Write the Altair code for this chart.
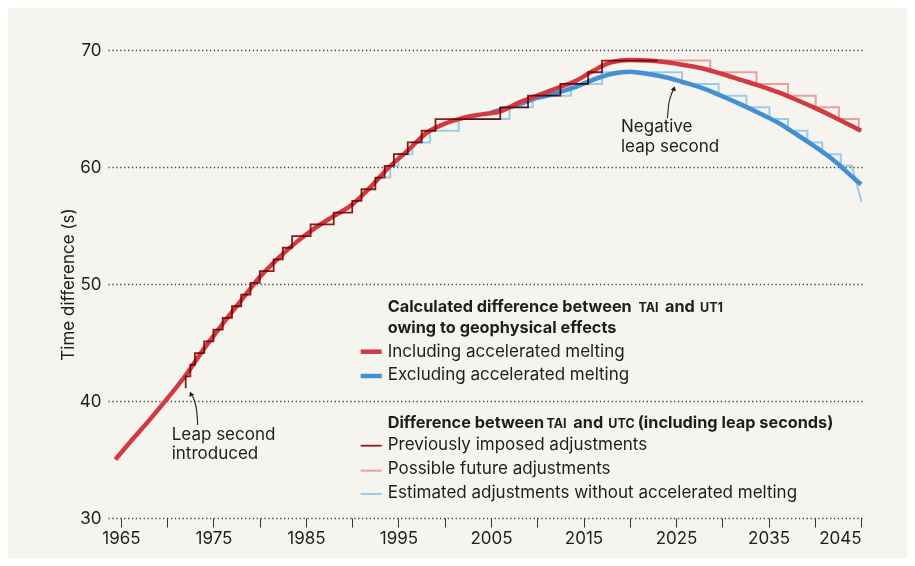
import altair as alt
import pandas as pd

FONT = "Inter"
TXT = "#1e1e1e"
FS = 17
BFS = 16.3

# ---- smooth curves (seconds) ----
red_years = [1964.4, 1966, 1968, 1970, 1972, 1974, 1976, 1978, 1980, 1982, 1984, 1986, 1988,
             1990, 1992, 1994, 1996, 1998, 2000, 2002, 2004, 2006, 2008, 2010, 2012, 2014, 2016,
             2018, 2020, 2022, 2024, 2026, 2028, 2030, 2032, 2034, 2036, 2038, 2040, 2042, 2044, 2045]
red_vals = [35.0, 36.5, 38.3, 40.2, 42.2, 44.5, 46.6, 48.6, 50.6, 52.2, 53.6, 54.8, 55.8,
            56.8, 58.3, 60.0, 61.4, 62.9, 63.7, 64.2, 64.5, 64.75, 65.5, 66.1, 66.7, 67.3, 68.2,
            68.95, 69.15, 69.1, 68.95, 68.7, 68.4, 67.95, 67.45, 66.95, 66.4, 65.75, 65.05, 64.3, 63.5, 63.1]

blue_years = [2005, 2008, 2010, 2012, 2014, 2016, 2018, 2020, 2022, 2024, 2026, 2028, 2030, 2032,
              2034, 2036, 2038, 2040, 2042, 2044, 2045]
blue_vals = [64.65, 65.35, 65.9, 66.3, 66.8, 67.45, 67.95, 68.15, 67.95, 67.65, 67.2, 66.7, 66.05,
             65.35, 64.6, 63.8, 62.8, 61.75, 60.6, 59.2, 58.5]

# ---- step series: (year of change, new level) ----
prev_years = [1972.0, 1972.0, 1972.5, 1973, 1974, 1975, 1976, 1977, 1978, 1979, 1980, 1981.5, 1982.5,
              1983.5, 1985.5, 1988, 1990, 1991, 1992.5, 1993.5, 1994.5, 1996, 1997.5, 1999, 2006,
              2009, 2012.5, 2015.5, 2017]
prev_levels = [41.1, 42.1, 43.1, 44.1, 45.1, 46.1, 47.1, 48.1, 49.1, 50.1, 51.1, 52.1, 53.1,
               54.1, 55.1, 56.1, 57.1, 58.1, 59.1, 60.1, 61.1, 62.1, 63.1, 64.1, 65.1,
               66.1, 67.1, 68.1, 69.1]
prev_end = 2023.0

future_years = [2023.0, 2028.7, 2033.7, 2037.1, 2040.1, 2042.6, 2044.75]
future_levels = [69.1, 68.1, 67.1, 66.1, 65.1, 64.1, 63.1]
future_end = 2045.05

est_years = [1993.6, 1994.1, 1995.0, 1996.5, 1998.4, 2001.5, 2007.0, 2009.5, 2013.65, 2017.0,
             2025.65, 2029.6, 2032.6, 2035.1, 2037.1, 2039.2, 2040.8, 2042.8]
est_levels = [59.1, 60.1, 61.1, 62.1, 63.1, 64.1, 65.1, 66.1, 67.1, 68.1,
              67.1, 66.1, 65.1, 64.1, 63.1, 62.1, 61.1, 60.1]
est_end = 2044.0
est_tail = (2045.05, 57.0)

# annotation arrows (data coordinates)
leap_arrow_years = [1973.3, 1973.2, 1972.95, 1972.55]
leap_arrow_vals = [37.95, 39.06, 40.0, 40.62]
neg_arrow_years = [2024.07, 2024.2, 2024.47, 2024.78]
neg_arrow_vals = [64.16, 65.3, 66.15, 66.72]

RED = "#d13a40"
BLUE = "#4390d2"
DARK = "#921c1c"
PINK = "#ec9ea0"
LBLUE = "#9ccbea"

xs = alt.Scale(domain=[1963.6, 2045.1], nice=False, zero=False)
ys = alt.Scale(domain=[30, 70], nice=False, zero=False)

XAX = alt.Axis(values=list(range(1965, 2050, 5)),
               labelExpr="datum.value % 10 == 5 ? datum.label : ''", format="d",
               grid=False, domain=False, tickSize=9, tickColor="#333", tickWidth=1,
               labelFontSize=FS, labelColor=TXT, labelPadding=3, labelFont=FONT, title=None)
YAX = alt.Axis(values=[30, 40, 50, 60, 70], grid=True, gridDash=[1.3, 2.6], gridColor="#444",
               gridWidth=1.3, domain=False, ticks=False, labelPadding=7, labelFontSize=FS,
               labelColor=TXT, labelFont=FONT, title="Time difference (s)", titleFontSize=FS,
               titleFontWeight="normal", titleColor=TXT, titleFont=FONT, titlePadding=2)


def step_df(years, levels, end_year, tail=None):
    pts = [(years[0], levels[0])]
    for i in range(1, len(years)):
        pts.append((years[i], levels[i - 1]))
        pts.append((years[i], levels[i]))
    pts.append((end_year, levels[-1]))
    if tail:
        pts.append(tail)
    return pd.DataFrame({"year": [p[0] for p in pts], "value": [p[1] for p in pts],
                         "order": list(range(len(pts)))})


def path_layer(df, color, width, interp="linear", blend=None):
    kw = dict(color=color, strokeWidth=width, interpolate=interp, strokeCap="butt", strokeJoin="miter")
    if blend:
        kw["blend"] = blend
    enc = dict(x=alt.X("year:Q", scale=xs, axis=XAX), y=alt.Y("value:Q", scale=ys, axis=YAX))
    if "order" in df.columns:
        enc["order"] = alt.Order("order:Q")
    return alt.Chart(df).mark_line(**kw).encode(**enc)


red_df = pd.DataFrame({"year": red_years, "value": red_vals})
blue_df = pd.DataFrame({"year": blue_years, "value": blue_vals})
prev_df = step_df(prev_years, prev_levels, prev_end)
fut_df = step_df(future_years, future_levels, future_end)
est_df = step_df(est_years, est_levels, est_end, est_tail)

layers = [
    path_layer(est_df, LBLUE, 2),
    path_layer(fut_df, PINK, 2),
    path_layer(blue_df, BLUE, 4.5, "monotone"),
    path_layer(red_df, RED, 4.5, "monotone"),
    path_layer(prev_df, DARK, 1.8, blend="multiply"),
]

# arrows
for ay, av, ang in [(leap_arrow_years, leap_arrow_vals, 335), (neg_arrow_years, neg_arrow_vals, 18)]:
    adf = pd.DataFrame({"year": ay, "value": av, "order": list(range(len(ay)))})
    layers.append(alt.Chart(adf).mark_line(color=TXT, strokeWidth=1.1, interpolate="monotone").encode(
        x=alt.X("year:Q", scale=xs, axis=XAX), y=alt.Y("value:Q", scale=ys, axis=YAX),
        order="order:Q"))
    tip = pd.DataFrame({"year": [ay[-1]], "value": [av[-1]]})
    layers.append(alt.Chart(tip).mark_point(shape="triangle-up", filled=True, size=28, color=TXT,
                                             opacity=1, angle=ang).encode(
        x=alt.X("year:Q", scale=xs, axis=XAX), y=alt.Y("value:Q", scale=ys, axis=YAX)))

dummy = pd.DataFrame({"a": [0]})


def text_at(t, x, y, bold=False, size=None):
    if size is None:
        size = BFS if bold else FS
    return alt.Chart(dummy).mark_text(text=t, align="left", baseline="middle", font=FONT,
                                      fontSize=size, fontWeight="bold" if bold else "normal",
                                      color=TXT).encode(x=alt.value(x), y=alt.value(y))


def rule_at(x1, x2, y, color, w):
    return alt.Chart(dummy).mark_rule(color=color, strokeWidth=w, strokeCap="butt").encode(
        x=alt.value(x1), x2=alt.value(x2), y=alt.value(y))


SC = 12.5  # small-caps size
LX1, LX2, TX = 252.7, 273.7, 279.7
layers += [
    text_at("Calculated difference between", TX, 257.3, bold=True),
    text_at("TAI", 530.5, 258.3, bold=True, size=SC),
    text_at("and", 557, 257.3, bold=True),
    text_at("UT1", 592, 258.3, bold=True, size=SC),
    text_at("owing to geophysical effects", TX, 278.3, bold=True),
    rule_at(LX1, LX2, 301.7, RED, 4.5),
    text_at("Including accelerated melting", TX, 301.7),
    rule_at(LX1, LX2, 326, BLUE, 4.5),
    text_at("Excluding accelerated melting", TX, 325),
    text_at("Difference between", TX, 372.7, bold=True),
    text_at("TAI", 438.5, 373.7, bold=True, size=SC),
    text_at("and", 465.3, 372.7, bold=True),
    text_at("UTC", 500.3, 373.7, bold=True, size=SC),
    text_at("(including leap seconds)", 529.7, 372.7, bold=True),
    rule_at(LX1, LX2, 395.7, DARK, 1.8),
    text_at("Previously imposed adjustments", TX, 395),
    rule_at(LX1, LX2, 420.7, PINK, 2),
    text_at("Possible future adjustments", TX, 419),
    rule_at(LX1, LX2, 444, LBLUE, 2),
    text_at("Estimated adjustments without accelerated melting", TX, 442.7),
    text_at("Leap second", 63.7, 385),
    text_at("introduced", 63.7, 404.3),
    text_at("Negative", 513, 77.3),
    text_at("leap second", 513, 96.7),
]

chart = alt.layer(*layers).properties(
    width=754, height=468,
    padding={"left": 100, "top": 42, "right": 45, "bottom": 40},
    autosize=alt.AutoSizeParams(type="none"),
    background="#f5f4ee",
).configure_view(stroke=None)

chart.save("out.html", embed_options={"renderer": "svg", "actions": False})
